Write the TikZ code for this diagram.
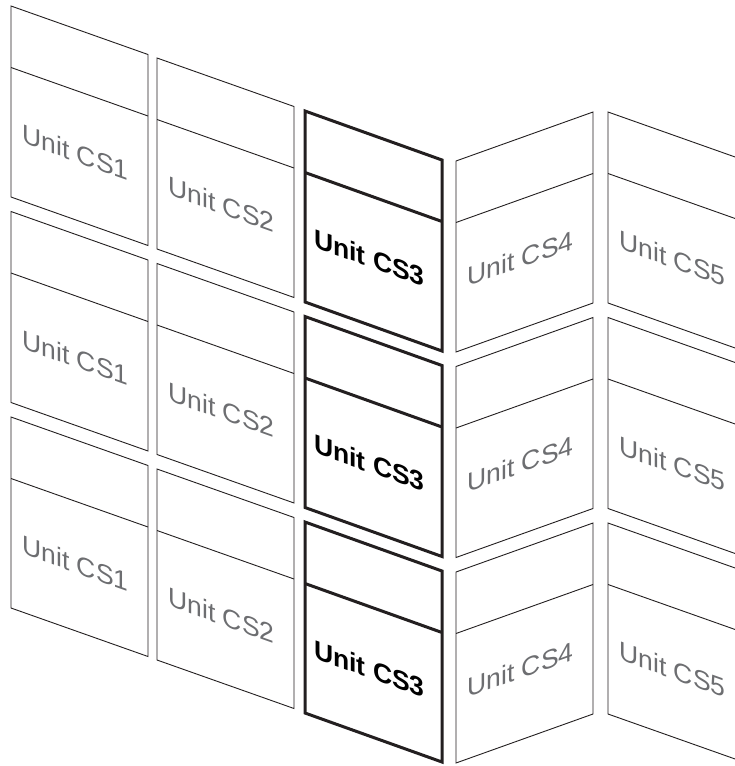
\documentclass[tikz,border=0pt]{standalone}
\usepackage{fontspec}
\setmainfont{Liberation Sans}
\definecolor{txtgray}{HTML}{6D6E71}
\definecolor{linec}{HTML}{231F20}
\newcommand\drawunit[8]{% #1 L, #2 T, #3 d, #4 panel style, #5 label, #6 name, #7 label style, #8 slant
  \draw[#4] (#1,#2) -- (#1+137,#2+#3) -- (#1+137,#2+#3+191) -- (#1,#2+191) -- cycle;
  \draw[#4] (#1,#2+61.5) -- (#1+137,#2+#3+61.5);
  \begin{scope}[shift={(#1+64.5,#2+0.5*#3+122)}]
    \node[#7,yslant=#8] (#6) at (0,0) {#5};
  \end{scope}
}
\begin{document}
\begin{tikzpicture}[x=1pt,y=-1pt,
  panel/.style={draw=linec, line width=0.9pt, line join=miter},
  boldpanel/.style={draw=linec, line width=3pt, line join=miter},
  lbl/.style={text=txtgray, font=\fontsize{26.5}{31}\selectfont, inner sep=0pt},
  boldlbl/.style={text=black, font=\fontsize{26.5}{31}\selectfont\bfseries, inner sep=0pt}]
\clip (0,0) rectangle (735,766);
\fill[white] (0,0) rectangle (735,766);
\foreach \r in {0,1,2}{
  \pgfmathsetmacro\off{\r*205.5}
  \drawunit{11}{6+\off}{48.5}{panel}{Unit CS1}{cs1r\r}{lbl}{-0.354}
  \drawunit{157}{58+\off}{48.5}{panel}{Unit CS2}{cs2r\r}{lbl}{-0.354}
  \drawunit{305}{111+\off}{49}{boldpanel}{Unit CS3}{cs3r\r}{boldlbl}{-0.354}
  \drawunit{456}{161+\off}{-49}{panel}{Unit CS4}{cs4r\r}{lbl}{0.354}
  \drawunit{608}{112+\off}{48.5}{panel}{Unit CS5}{cs5r\r}{lbl}{-0.354}
}
\end{tikzpicture}
\end{document}
